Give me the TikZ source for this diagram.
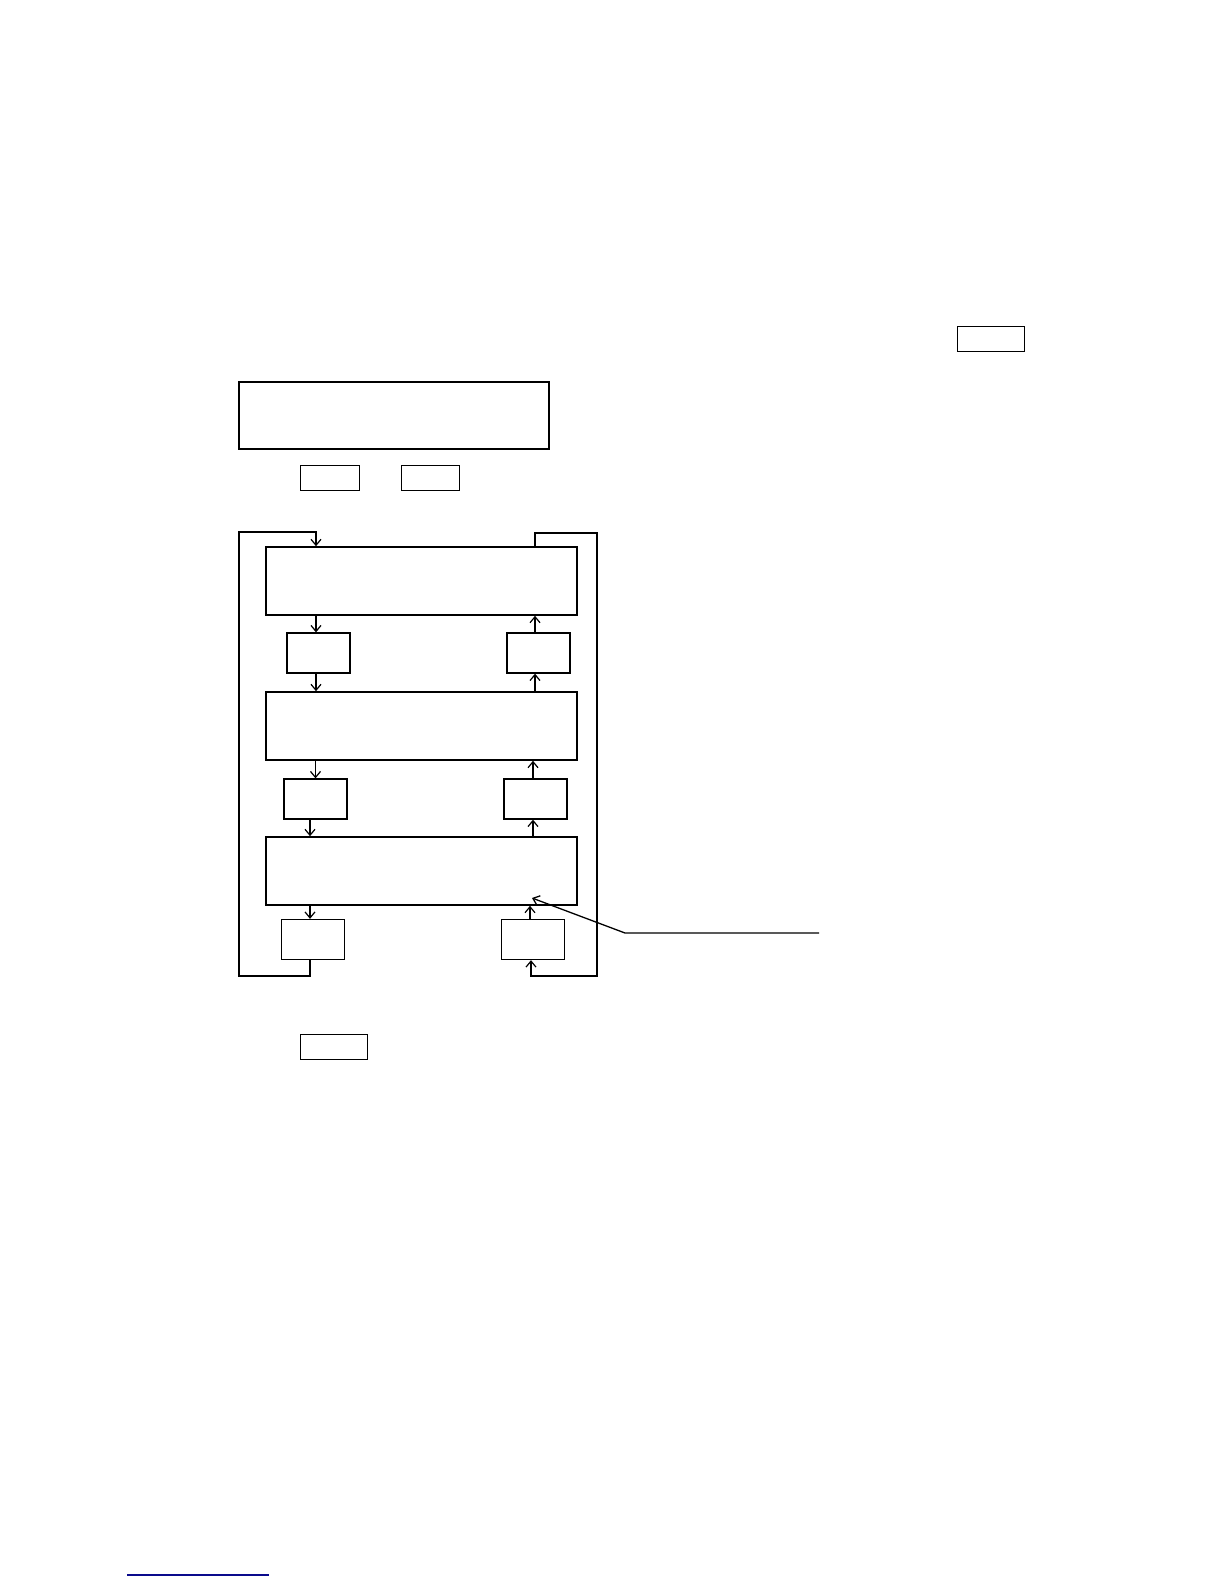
\documentclass[tikz,border=0pt]{standalone}
\usepackage{tikz}
\usetikzlibrary{arrows.meta}
\definecolor{rulenavy}{RGB}{10,10,140}
\tikzset{% common styles of the chart elements
  stage/.style = {shape=rectangle, draw, line width=1.6pt,
                  minimum width=311pt, minimum height=68pt, inner sep=0pt},
  buffer/.style = {shape=rectangle, draw, line width=1.3pt,
                   minimum width=63pt, minimum height=40pt, inner sep=0pt},
  tag/.style = {shape=rectangle, draw, line width=1pt,
                minimum width=67pt, minimum height=25pt, inner sep=0pt},
  flow/.style = {draw, line width=1.2pt, -{Straight Barb[length=6pt,width=10pt]}},
}
\begin{document}
\begin{tikzpicture}[x=1pt, y=-1pt]
  \useasboundingbox (0,0) rectangle (1224,1584);
  % header part
  \node [tag] (ref) at (990.5,338.5) {};
  \node [stage, minimum width=310pt, minimum height=67pt] (head) at (394,415.5) {};
  \node [tag, minimum width=59pt] (hl) at (329.5,477.5) {};
  \node [tag, minimum width=58pt] (hr) at (430,477.5) {};
  % three stages with their buffers
  \node [stage] (st1) at (421.5,581) {};
  \node [stage] (st2) at (421.5,726) {};
  \node [stage] (st3) at (421.5,871) {};
  \node [buffer] (dn1) at (318.5,653) {};
  \node [buffer] (up1) at (538.5,653) {};
  \node [buffer] (dn2) at (315.5,799) {};
  \node [buffer] (up2) at (535.5,799) {};
  \node [buffer] (dn3) at (313,939.5) {};
  \node [buffer] (up3) at (533,939.5) {};
  \node [tag] (foot) at (333.5,1046.5) {};
  % downward flow
  \draw [flow] (st1.south -| 316,0) -- (dn1.north -| 316,0);
  \draw [flow] (dn1.south -| 316,0) -- (st2.north -| 316,0);
  \draw [flow] (st2.south -| dn2.north) -- (dn2.north);
  \draw [flow] (dn2.south -| 310,0) -- (st3.north -| 310,0);
  \draw [flow] (st3.south -| 310,0) -- (dn3.north -| 310,0);
  % upward flow
  \draw [flow] (up1.north -| 535,0) -- (st1.south -| 535,0);
  \draw [flow] (st2.north -| 535,0) -- (up1.south -| 535,0);
  \draw [flow] (up2.north -| 533,0) -- (st2.south -| 533,0);
  \draw [flow] (st3.north -| 533,0) -- (up2.south -| 533,0);
  \draw [flow] (up3.north -| 530,0) -- (st3.south -| 530,0);
  % return loops
  \coordinate (lbot) at (239,976);
  \coordinate (ltop) at (239,532);
  \coordinate (rtop) at (597,533);
  \coordinate (rbot) at (597,976);
  \draw [flow] (dn3.south -| 310,0) |- (lbot) -- (ltop) -| (st1.north -| 316,0);
  \draw [flow] (st1.north -| 535,0) |- (rtop) -- (rbot) -| (up3.south -| 531,0);
  \draw [line width=2.4pt] (rtop) -- (rbot);
  % pointer to the last stage
  \coordinate (ptrend) at (819,933);
  \coordinate (ptrknee) at (625,933);
  \coordinate (ptrtip) at (532,898);
  \draw [flow, line width=1.3pt] (ptrend) -- (ptrknee) -- (ptrtip);
  % footnote rule
  \draw [rulenavy, line width=1.5pt] (127,1575) -- (269,1575);
\end{tikzpicture}
\end{document}
